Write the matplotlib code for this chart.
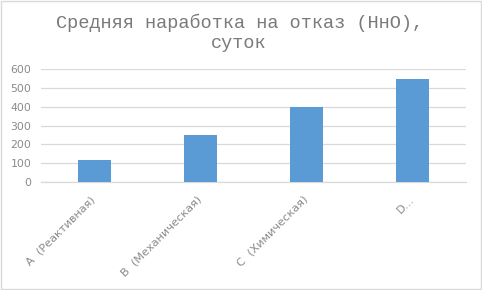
import matplotlib
matplotlib.use("Agg")
import matplotlib.pyplot as plt
import matplotlib.transforms as mtransforms
from matplotlib.patches import Rectangle

categories = ["A  (Реактивная)", "B  (Механическая)", "C  (Химическая)", "D…"]
values = [117, 250, 400, 550]
yticks = [0, 100, 200, 300, 400, 500, 600]
title = "Средняя наработка на отказ (НнО),\nсуток"

fig = plt.figure(figsize=(4.82, 2.90), dpi=100)
ax = fig.add_axes([41/482, 1-181.7/290, (466-41)/482, (181.7-69.3)/290])

x = list(range(len(categories)))
ax.bar(x, values, width=0.31, color="#5b9bd5", zorder=3)
ax.set_xlim(-0.5, len(categories)-0.5)
ax.set_ylim(0, 600)
ax.set_yticks(yticks)
ax.set_yticklabels([str(v) for v in yticks], fontsize=7.8, color="#8a8a8a", family="DejaVu Sans")
ax.set_xticks(x)
ax.set_xticklabels(categories, rotation=45, ha="right", va="top", rotation_mode="anchor",
                   fontsize=8.1, color="#8a8a8a", family="DejaVu Sans")
ax.tick_params(axis="y", length=0, pad=7)
ax.tick_params(axis="x", length=0, pad=9)
offset = mtransforms.ScaledTranslation(-4/100, 0, fig.dpi_scale_trans)
for lab in ax.get_xticklabels():
    lab.set_transform(lab.get_transform() + offset)
ax.grid(axis="y", color="#d9d9d9", linewidth=0.9, zorder=0)
for s in ["top", "right", "left"]:
    ax.spines[s].set_visible(False)
ax.spines["bottom"].set_color("#d9d9d9")
ax.spines["bottom"].set_linewidth(0.9)

fig.text(0.496, 1-33/290, title, ha="center", va="center", fontsize=13.4,
         family="Liberation Mono", color="#7a7a7a", linespacing=1.2)

fig.patches.append(Rectangle((0.002, 0.003), 0.995, 0.994, transform=fig.transFigure,
                             fill=False, edgecolor="#d9d9d9", linewidth=1))
fig.savefig("out.png", dpi=100, facecolor="white")
